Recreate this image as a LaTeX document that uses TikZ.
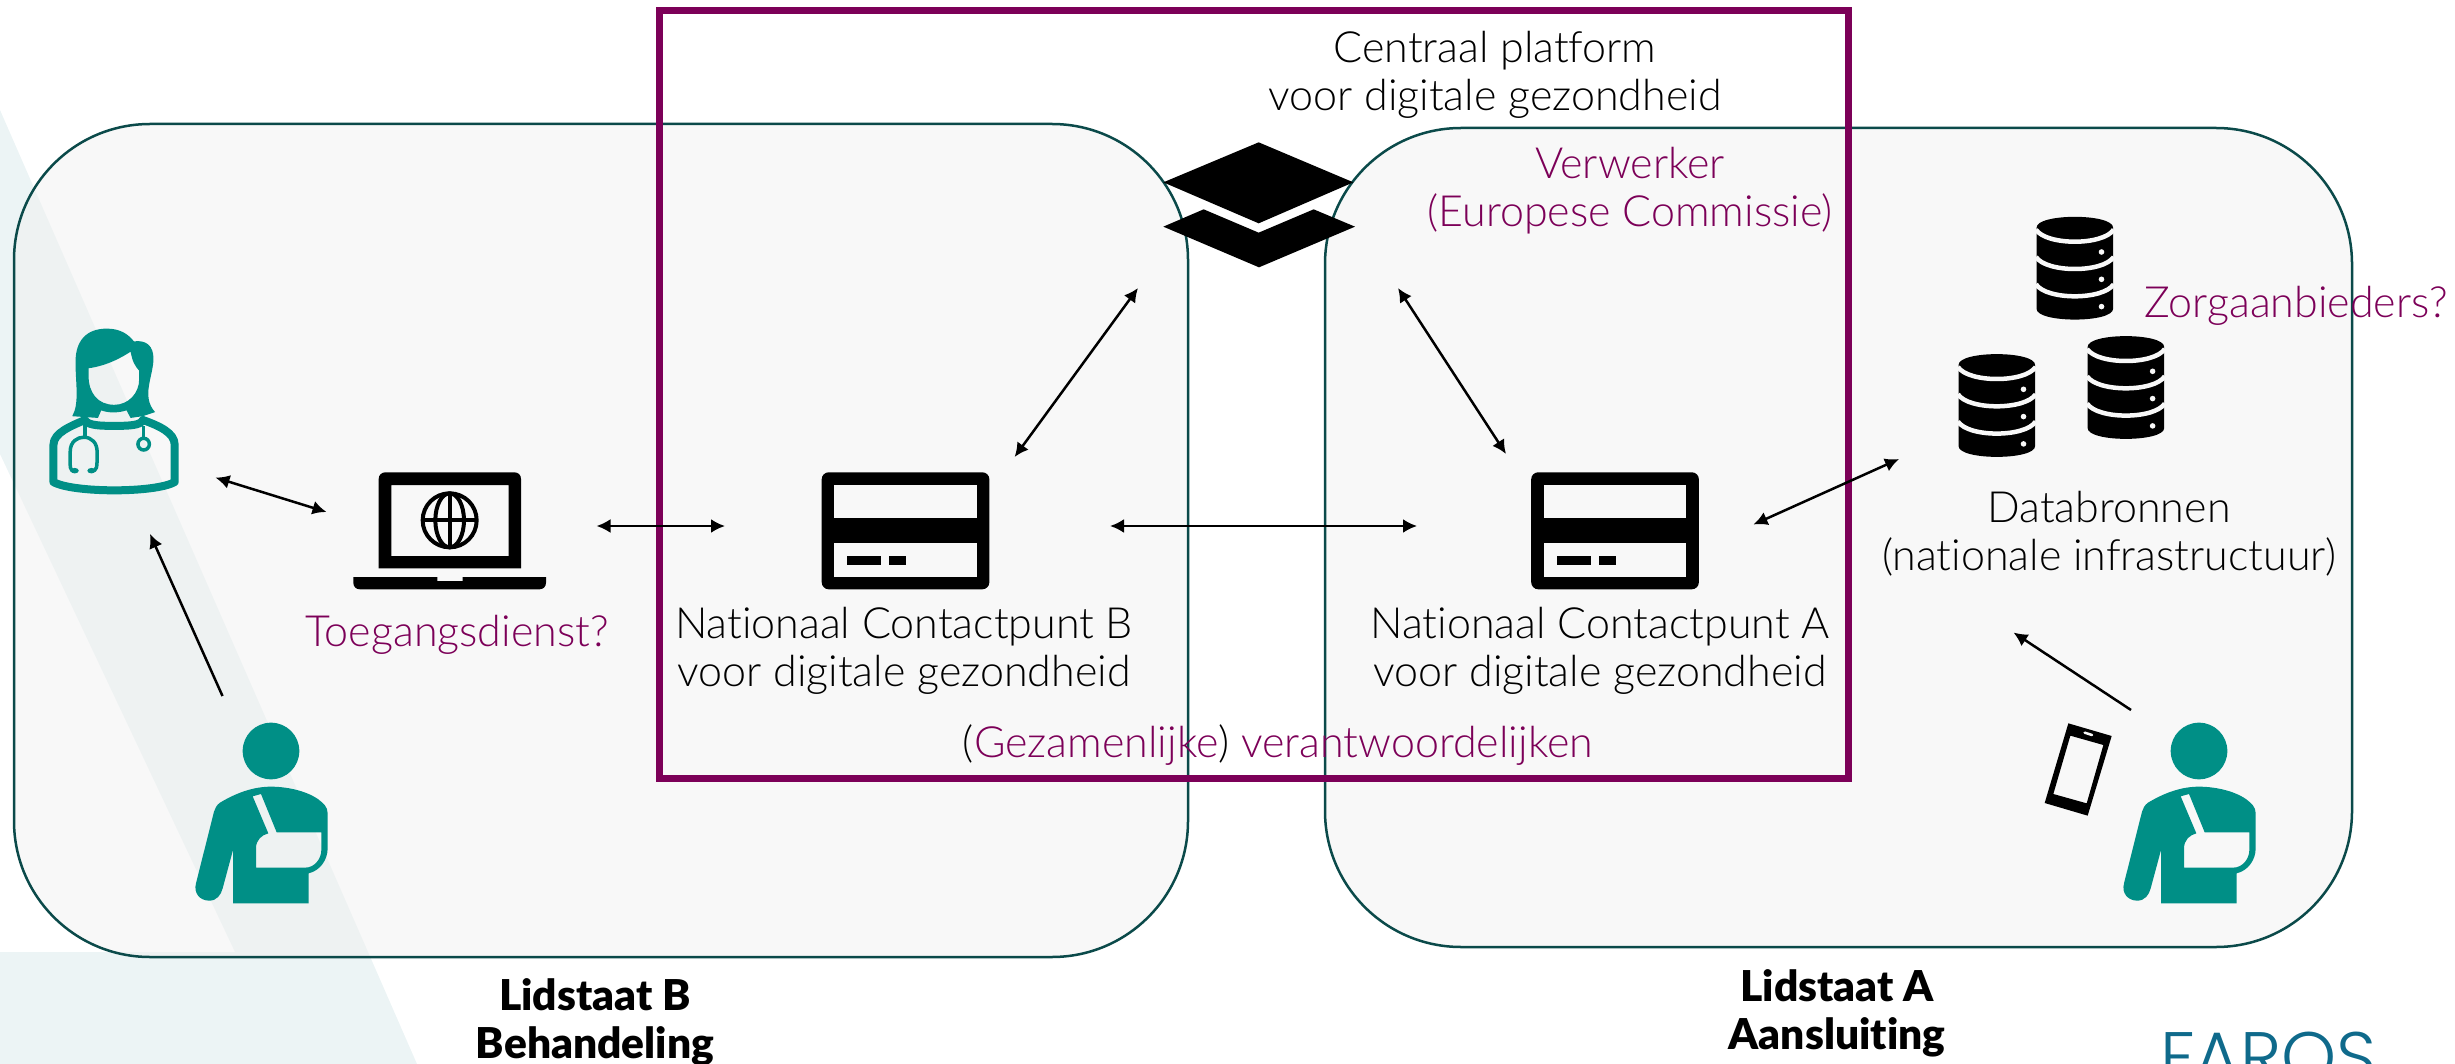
\documentclass[tikz,border=0pt]{standalone}
\usepackage{fontspec}
\setmainfont{Lato}[UprightFont={* Light},BoldFont={* Black},Ligatures=NoCommon]
\newfontfamily\logofont{Poppins Light}
\usetikzlibrary{arrows.meta}
\definecolor{teal1}{HTML}{008F86}
\definecolor{plum}{HTML}{7C0058}
\definecolor{pale}{HTML}{ECF4F5}
\definecolor{panelfill}{HTML}{F1F1F1}
\definecolor{paneledge}{HTML}{0B4A4A}
\definecolor{hole}{HTML}{F8F8F8}
\definecolor{logoblue}{HTML}{0F6A8B}
\tikzset{
  panel/.style={draw=paneledge,line width=2.5pt,fill=panelfill,fill opacity=.5,rounded corners=136pt},
  link/.style={line width=2.5pt,{Latex[length=14pt,width=14pt]}-{Latex[length=14pt,width=14pt]}},
  oneway/.style={line width=2.5pt,-{Latex[length=14pt,width=14pt]}},
  lbl/.style={font=\fontsize{43}{48}\selectfont,align=center,text=black,inner sep=0pt},
  lblp/.style={lbl,text=plum},
  lblb/.style={font=\fontsize{42.5}{48}\selectfont\bfseries,align=center,text=black,inner sep=0pt},
  pics/patient/.style={code={
    \begin{scope}[shift={(-219.33,-71)},scale=1/3]
      \fill[teal1] (658,213) circle (85);
      \fill[teal1,even odd rule]
        (544,670) -- (771,670) -- (771,580) .. controls (805,572) and (828,540) .. (828,505)
        -- (828,400) .. controls (828,380) and (815,370) .. (800,358)
        .. controls (760,330) and (700,320) .. (658,320)
        .. controls (610,320) and (560,335) .. (505,368)
        .. controls (495,375) and (490,385) .. (487,395)
        -- (433,610) .. controls (425,640) and (445,662) .. (473,662)
        .. controls (495,662) and (508,645) .. (513,625) -- (544,510) -- cycle
        (613,563) -- (760,563) .. controls (790,563) and (809,535) .. (809,510)
        -- (809,457) -- (675,457) -- (628,342) -- (603,349) -- (650,460)
        .. controls (630,465) and (613,480) .. (613,505) -- cycle;
    \end{scope}}},
  pics/card/.style={code={
    \begin{scope}[scale=1/3]
      \fill[black,rounded corners=7pt] (0,0) rectangle (503,351);
      \fill[hole] (38,38) rectangle (465,137);
      \fill[hole] (38,213) rectangle (465,313);
      \fill[black] (76,251) rectangle (178,277);
      \fill[black] (202,251) rectangle (253,277);
    \end{scope}}},
  pics/dbstack/.style={code={
    \fill[black] (0,11) .. controls (0,-3.5) and (76.6,-3.5) .. (76.6,11)
      -- (76.6,92) .. controls (76.6,106.5) and (0,106.5) .. (0,92) -- cycle;
    \foreach \k in {0,27.3,54.6}{
      \draw[hole,line width=4.5pt] (-0.5,13+\k) .. controls (10,29+\k) and (66.6,29+\k) .. (77.1,13+\k);
      \fill[hole] (65,35.3+\k) circle (2.8);
    }}},
}
\begin{document}
\begin{tikzpicture}[x=1pt,y=-1pt]
\path[use as bounding box] (0,0) rectangle (2455,1064);
% background shape
\fill[pale] (0,110) -- (417,1064) -- (0,1064) -- (0,952) -- (235,952) -- (0,454) -- cycle;
% panels
\path[panel] (14,124) rectangle (1188,957);
\path[panel] (1325,128) rectangle (2352,947);
% central platform rectangle
\draw[plum,line width=7pt] (659,11) rectangle (1848,778);
% stack icon
\begin{scope}[shift={(1100,100)},scale=1/3]
  \fill[black] (476,127) -- (760,247) -- (476,370) -- (190,247) -- cycle;
  \fill[black] (311,328) -- (476,398) -- (641,328) -- (765,380) -- (477,502) -- (190,380) -- cycle;
\end{scope}
% doctor
\begin{scope}[shift={(0,100)},xscale=1/2.45,yscale=1/2.9]
  \fill[teal1,even odd rule]
    (177,917) .. controls (195,880) and (185,820) .. (185,760)
    .. controls (185,700) and (210,663) .. (262,663)
    .. controls (295,663) and (315,680) .. (328,700)
    .. controls (360,695) and (376,715) .. (376,750)
    .. controls (376,800) and (345,860) .. (380,905)
    -- (350,917) -- (320,922) -- (310,900)
    .. controls (290,908) and (265,908) .. (248,900) -- (240,922) -- cycle
    (217,778) .. controls (265,770) and (300,745) .. (320,730)
    .. controls (325,760) and (330,770) .. (341,785) -- (341,810)
    .. controls (341,850) and (315,884) .. (280,884)
    .. controls (240,884) and (217,850) .. (217,800) -- cycle;
  \draw[teal1,line width=8pt,line join=round]
    (131,1108) -- (131,1000) .. controls (131,965) and (175,945) .. (208,928)
    .. controls (215,945) and (250,945) .. (280,945)
    .. controls (310,945) and (345,945) .. (350,928)
    .. controls (390,945) and (428,965) .. (428,1000) -- (428,1108)
    .. controls (380,1140) and (180,1140) .. (131,1108) -- cycle;
  \draw[teal1,line width=3.5pt] (208,940) -- (208,978);
  \draw[teal1,line width=3.5pt] (183,1075) .. controls (170,1075) and (172,1070) .. (172,1020)
    .. controls (172,990) and (190,978) .. (205,978)
    .. controls (225,978) and (238,995) .. (238,1020)
    .. controls (238,1070) and (238,1075) .. (224,1075);
  \fill[teal1] (183,1075) ellipse (10 and 8);
  \fill[teal1] (224,1075) ellipse (10 and 8);
  \draw[teal1,line width=3.5pt] (352,945) -- (352,985);
  \draw[teal1,line width=3.5pt] (352,998) ellipse (14 and 17);
\end{scope}
% laptop
\begin{scope}[shift={(320,450)},scale=1/3]
  \fill[black,even odd rule]
    (176,355) -- (176,87) .. controls (176,75) and (185,67) .. (196,67)
    -- (583,67) .. controls (595,67) and (603,75) .. (603,87)
    -- (603,355) -- cycle
    (214,105) rectangle (566,318);
  \fill[black] (100,381) -- (352,381) -- (352,393) -- (428,393) -- (428,381) -- (678,381) -- (678,398)
    .. controls (678,410) and (670,418) .. (658,418) -- (120,418)
    .. controls (108,418) and (100,410) .. (100,398) -- cycle;
  \draw[black,line width=4pt] (389,211) circle (81);
  \draw[black,line width=4pt] (389,211) ellipse (43 and 81);
  \draw[black,line width=4pt] (389,130) -- (389,292) (308,211) -- (470,211);
\end{scope}
% cards
\pic at (821.7,472.3) {card};
\pic at (1531.2,472.3) {card};
% databases
\pic at (2036.5,216.7) {dbstack};
\pic at (1958.5,354) {dbstack};
\pic at (2087.6,336) {dbstack};
% phone
\begin{scope}[shift={(1980,680)},scale=1/3]
  \fill[black,even odd rule,line join=round]
    (265,130) -- (395,168) -- (323,407) -- (194,369) -- cycle
    (271,167) -- (370,195) -- (320,370) -- (220,342) -- cycle;
  \draw[hole,line width=2.5pt,line cap=round] (314,158) -- (336,165);
\end{scope}
% patients
\pic at (271,751) {patient};
\pic at (2199,751) {patient};
% connector ends
\coordinate (docR) at (215.5,477.6);
\coordinate (lapL) at (326.5,512);
\coordinate (docB) at (150,534);
\coordinate (patL) at (222.5,696);
\coordinate (lapR) at (596.5,526);
\coordinate (ncbL) at (725,526);
\coordinate (ncbT) at (1014.6,457);
\coordinate (hubL) at (1138,288);
\coordinate (ncbR) at (1110,526);
\coordinate (ncaL) at (1417,526);
\coordinate (hubR) at (1398,288);
\coordinate (ncaT) at (1506,454);
\coordinate (ncaR) at (1753.5,524.5);
\coordinate (dbL) at (1899,459);
\coordinate (patR) at (2131,710);
\coordinate (dbB) at (2013.5,632.5);
\draw[link] (docR) -- (lapL);
\draw[oneway] (patL) -- (docB);
\draw[link] (lapR) -- (ncbL);
\draw[link] (ncbT) -- (hubL);
\draw[link] (ncbR) -- (ncaL);
\draw[link] (hubR) -- (ncaT);
\draw[link] (ncaR) -- (dbL);
\draw[oneway] (patR) -- (dbB);
% labels
\node[lbl] (central) at (1495,74.5) {Centraal platform\\voor digitale gezondheid};
\node[lblp] (verwerker) at (1630,191) {Verwerker\\(Europese Commissie)};
\node[lblp] (toegang) at (457,634.5) {Toegangsdienst?};
\node[lbl] (ncb) at (904,651) {Nationaal Contactpunt B\\voor digitale gezondheid};
\node[lbl] (nca) at (1600,651) {Nationaal Contactpunt A\\voor digitale gezondheid};
\node[lblp] (verantw) at (1278,745.5) {\textcolor{black}{(}Gezamenlijke\textcolor{black}{)} verantwoordelijken};
\node[lbl] (db) at (2109,534) {Databronnen\\(nationale infrastructuur)};
\node[lblp] (zorg) at (2296,305.5) {Zorgaanbieders?};
\node[lblb] (lidb) at (595,1022) {Lidstaat B\\Behandeling};
\node[lblb] (lida) at (1837,1013) {Lidstaat A\\Aansluiting};
\node[anchor=base west,inner sep=0pt,text=logoblue] (faros) at (2160,1081)
  {\logofont\fontsize{70}{70}\selectfont FAROS};
\end{tikzpicture}
\end{document}
